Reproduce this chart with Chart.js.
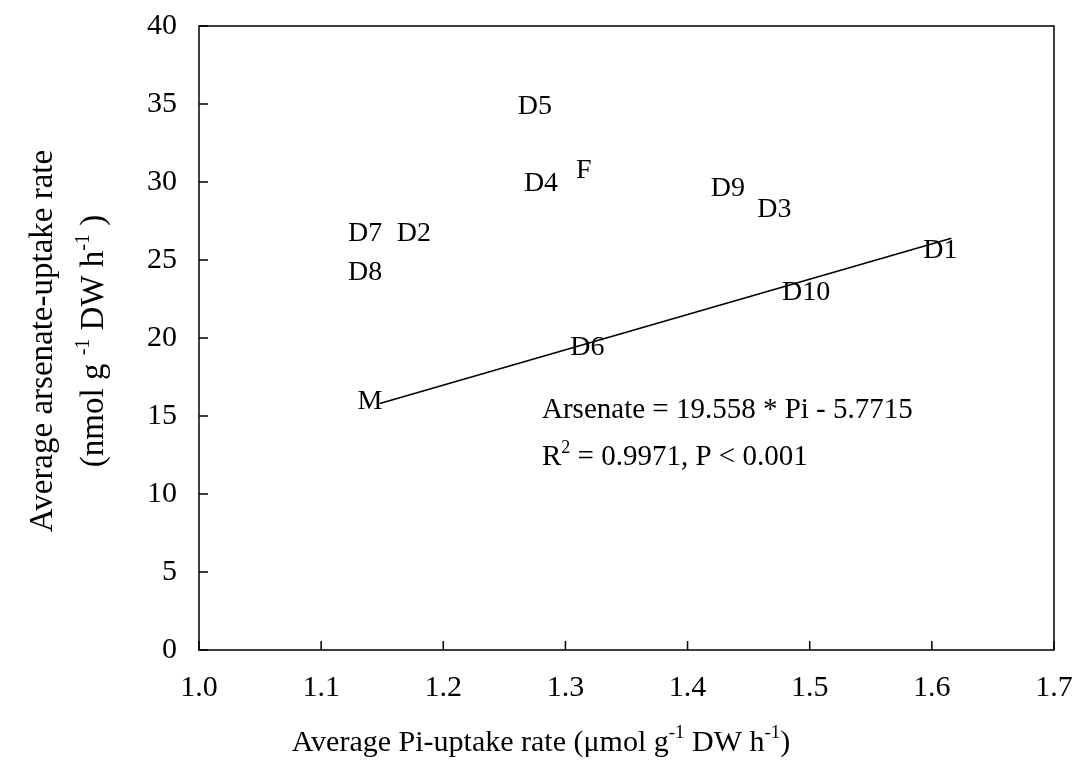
<!DOCTYPE html>
<html>
<head>
<meta charset="utf-8">
<script src="https://cdn.jsdelivr.net/npm/chart.js@4/dist/chart.umd.min.js"></script>
<style>
  html, body { margin: 0; padding: 0; background: #fff; }
  #wrap { width: 1075px; height: 780px; position: relative; }
</style>
</head>
<body>
<div id="wrap"><canvas id="c" width="1075" height="780"></canvas></div>
<script>
// ---- data ----
const cultivars = ['M', 'D1', 'D2', 'D3', 'D4', 'D5', 'D6', 'D7', 'D8', 'D9', 'D10', 'F'];
const piUptake = [1.140, 1.607, 1.176, 1.471, 1.280, 1.275, 1.318, 1.136, 1.136, 1.433, 1.497, 1.315];
const arsenateUptake = [15.9, 25.6, 26.7, 28.2, 29.9, 34.8, 19.4, 26.7, 24.2, 29.6, 22.9, 30.7];
const fitPi = [1.148, 1.616];
const fitArsenate = [15.8, 26.4];
const xTicks = [1.0, 1.1, 1.2, 1.3, 1.4, 1.5, 1.6, 1.7];
const yTicks = [0, 5, 10, 15, 20, 25, 30, 35, 40];
const equationText = 'Arsenate = 19.558 * Pi - 5.7715';

const FONT = '"Liberation Serif", "Times New Roman", serif';

function drawRich(ctx, parts, x, y, size, align) {
  const supSize = Math.round(size * 0.62);
  let total = 0;
  const widths = parts.map(p => {
    ctx.font = (p[1] ? supSize : size) + 'px ' + FONT;
    const w = ctx.measureText(p[0]).width;
    total += w;
    return w;
  });
  let cx = align === 'left' ? x : x - total / 2;
  parts.forEach((p, i) => {
    ctx.font = (p[1] ? supSize : size) + 'px ' + FONT;
    ctx.textAlign = 'left';
    ctx.textBaseline = 'alphabetic';
    ctx.fillText(p[0], cx, p[1] ? y - size * 0.42 : y);
    cx += widths[i];
  });
}

const decor = {
  id: 'decor',
  afterDraw(chart) {
    const ctx = chart.ctx;
    const a = chart.chartArea;
    const xs = chart.scales.x, ys = chart.scales.y;
    ctx.save();
    ctx.strokeStyle = '#000';
    ctx.fillStyle = '#000';
    ctx.lineWidth = 1.5;
    ctx.strokeRect(a.left, a.top, a.right - a.left, a.bottom - a.top);
    ctx.beginPath();
    xTicks.forEach(v => {
      const px = xs.getPixelForValue(v);
      ctx.moveTo(px, a.bottom);
      ctx.lineTo(px, a.bottom - 9);
    });
    yTicks.forEach(v => {
      const py = ys.getPixelForValue(v);
      ctx.moveTo(a.left, py);
      ctx.lineTo(a.left + 9, py);
    });
    ctx.stroke();

    // point labels
    ctx.font = '28px ' + FONT;
    ctx.textAlign = 'center';
    ctx.textBaseline = 'middle';
    cultivars.forEach((name, i) => {
      ctx.fillText(name, xs.getPixelForValue(piUptake[i]), ys.getPixelForValue(arsenateUptake[i]));
    });

    // equation annotation
    drawRich(ctx, [[equationText, false]], 542, 418, 29, 'left');
    drawRich(ctx, [['R', false], ['2', true], [' = 0.9971, P < 0.001', false]], 542, 465, 29, 'left');

    // x-axis title
    drawRich(ctx, [['Average Pi-uptake rate (μmol g', false], ['-1', true], [' DW h', false], ['-1', true], [')', false]],
      541, 751, 30, 'center');

    // y-axis title (two rotated lines)
    ctx.save();
    ctx.rotate(-Math.PI / 2);
    drawRich(ctx, [['Average arsenate-uptake rate', false]], -341, 52, 33, 'center');
    drawRich(ctx, [['(nmol g ', false], ['-1', true], [' DW h', false], ['-1', true], [' )', false]], -341, 103, 33, 'center');
    ctx.restore();
    ctx.restore();
  }
};

new Chart(document.getElementById('c'), {
  type: 'scatter',
  data: {
    datasets: [
      {
        label: 'cultivars',
        data: piUptake.map((v, i) => ({ x: v, y: arsenateUptake[i] })),
        pointRadius: 0,
        pointHoverRadius: 0,
        showLine: false
      },
      {
        label: 'fit',
        data: fitPi.map((v, i) => ({ x: v, y: fitArsenate[i] })),
        showLine: true,
        borderColor: '#000',
        borderWidth: 1.6,
        pointRadius: 0,
        fill: false
      }
    ]
  },
  options: {
    responsive: false,
    animation: false,
    devicePixelRatio: 1,
    layout: { padding: { left: 0, top: 26, right: 21, bottom: 0 } },
    plugins: { legend: { display: false }, tooltip: { enabled: false } },
    scales: {
      x: {
        type: 'linear',
        min: 1.0, max: 1.7,
        afterBuildTicks: s => { s.ticks = xTicks.map(v => ({ value: v })); },
        afterFit: s => { s.height = 130; s.paddingLeft = 0; s.paddingRight = 0; },
        grid: { display: false, drawTicks: false },
        border: { display: false },
        ticks: {
          color: '#000',
          font: { family: FONT, size: 30 },
          padding: 20,
          maxRotation: 0,
          callback: v => v.toFixed(1)
        }
      },
      y: {
        type: 'linear',
        min: 0, max: 40,
        afterBuildTicks: s => { s.ticks = yTicks.map(v => ({ value: v })); },
        afterFit: s => { s.width = 199; s.paddingTop = 0; s.paddingBottom = 0; },
        grid: { display: false, drawTicks: false },
        border: { display: false },
        ticks: {
          color: '#000',
          font: { family: FONT, size: 30 },
          padding: 22,
          callback: v => String(v)
        }
      }
    }
  },
  plugins: [decor]
});
</script>
</body>
</html>
